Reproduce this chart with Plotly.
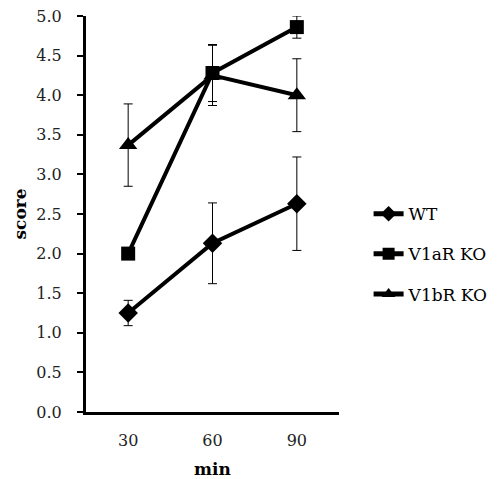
import plotly.graph_objects as go

categories = ["30", "60", "90"]
wt = [1.25, 2.13, 2.63]
wt_err = [0.16, 0.51, 0.59]
v1a = [2.0, 4.28, 4.86]
v1a_err = [0.05, 0.36, 0.14]
v1b = [3.37, 4.25, 4.0]
v1b_err = [0.52, 0.38, 0.46]
y_ticks = [0.0, 0.5, 1.0, 1.5, 2.0, 2.5, 3.0, 3.5, 4.0, 4.5, 5.0]

FONT = "DejaVu Serif"

fig = go.Figure()
series = [
    ("WT", wt, wt_err, "diamond", 15),
    ("V1aR KO", v1a, v1a_err, "square", 14),
    ("V1bR KO", v1b, v1b_err, "triangle-up", 16),
]
for name, vals, errs, sym, size in series:
    fig.add_trace(go.Scatter(
        x=categories, y=vals, name=name, mode="lines+markers",
        line=dict(color="black", width=4),
        marker=dict(symbol=sym, size=size, color="black"),
        error_y=dict(type="data", array=errs, visible=True, color="black", thickness=1, width=4.5),
        legendgroup=name,
    ))

fig.update_layout(
    width=502, height=479,
    margin=dict(l=78, r=171, t=8, b=75, autoexpand=False),
    paper_bgcolor="white", plot_bgcolor="white",
    font=dict(family=FONT, size=16, color="black"),
    showlegend=True,
    legend=dict(x=1.117, y=0.545, xanchor="left", yanchor="top",
                font=dict(family=FONT, size=17, color="black"),
                tracegroupgap=15, itemwidth=30, itemsizing="constant",
                bgcolor="rgba(0,0,0,0)"),
    xaxis=dict(type="category", range=[-0.5, 2.5], showline=True, linecolor="black", linewidth=3,
               ticks="", showgrid=False, zeroline=False, automargin=False,
               ticklabelstandoff=12, ticklabeloverflow="allow",
               tickfont=dict(family=FONT, size=16, color="#222"),
               title=dict(text="<b>min</b>", font=dict(family=FONT, size=17), standoff=14)),
    yaxis=dict(range=[0, 5.0], tickvals=y_ticks, ticktext=[f"{v:.1f}" for v in y_ticks],
               showline=True, linecolor="black", linewidth=3, ticks="outside", ticklen=6,
               tickwidth=2, tickcolor="black", showgrid=False, zeroline=False, automargin=False,
               ticklabelstandoff=12, ticklabeloverflow="allow",
               tickfont=dict(family=FONT, size=16, color="#222"),
               title=dict(text="<b>score</b>", font=dict(family=FONT, size=17), standoff=6)),
)

fig.write_html("out.html")
